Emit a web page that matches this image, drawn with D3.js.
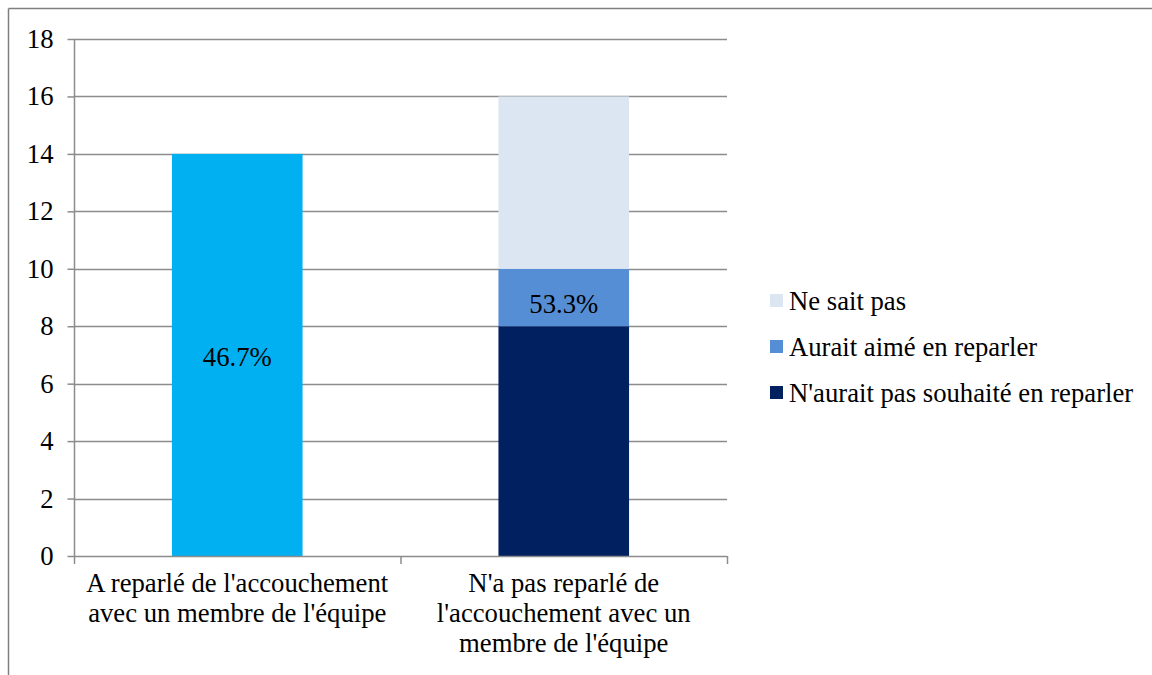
<!DOCTYPE html>
<meta charset="utf-8">
<head>
<script src="https://d3js.org/d3.v7.min.js"></script>
<style>
  body { margin: 0; background: #fff; }
  svg text { font-family: "Liberation Serif", "Times New Roman", serif; fill: #000; }
</style>
</head>
<body>
<div id="chart"></div>
<script>
// data
var categories = [
  ["A reparlé de l'accouchement", "avec un membre de l'équipe"],
  ["N'a pas reparlé de", "l'accouchement avec un", "membre de l'équipe"]
];
var seriesNames = ["Reparlé", "N'aurait pas souhaité en reparler", "Aurait aimé en reparler", "Ne sait pas"];
var seriesColors = ["#00B0F0", "#002060", "#558ED5", "#DCE6F2"];
var values = [
  [14, 0, 0, 0],
  [0, 8, 2, 6]
];
var percentLabels = ["46.7%", "53.3%"];
var yTicks = [0, 2, 4, 6, 8, 10, 12, 14, 16, 18];
var legendItems = ["Ne sait pas", "Aurait aimé en reparler", "N'aurait pas souhaité en reparler"];
var legendColors = ["#DCE6F2", "#558ED5", "#002060"];

var W = 1152, H = 675;
var fs = "26.7px";
var ff = "'Liberation Serif', 'Times New Roman', serif";
var svg = d3.select("#chart").append("svg").attr("width", W).attr("height", H)
  .attr("font-family", ff);

// outer border (top and left visible)
svg.append("line").attr("x1", 8.5).attr("x2", W).attr("y1", 8.5).attr("y2", 8.5)
  .attr("stroke", "#7f7f7f").attr("stroke-width", 1.5);
svg.append("line").attr("x1", 8.5).attr("x2", 8.5).attr("y1", 8.5).attr("y2", H)
  .attr("stroke", "#7f7f7f").attr("stroke-width", 1.5);

var plotLeft = 74, plotRight = 727, plotTop = 39, plotBottom = 556;

var x = d3.scaleBand().domain(d3.range(categories.length)).range([plotLeft, plotRight]).paddingInner(0).paddingOuter(0);
var y = d3.scaleLinear().domain([0, 18]).range([plotBottom, plotTop]);

// gridlines
svg.append("g").selectAll("line").data(yTicks.filter(function(d){ return d > 0; })).enter().append("line")
  .attr("x1", plotLeft).attr("x2", plotRight)
  .attr("y1", function(d){ return Math.round(y(d)) + 0.5; })
  .attr("y2", function(d){ return Math.round(y(d)) + 0.5; })
  .attr("stroke", "#8c8c8c").attr("stroke-width", 1.5);

// stacked bars
var barW = x.bandwidth() * 0.4;
values.forEach(function(row, i) {
  var acc = 0;
  row.forEach(function(v, s) {
    if (v <= 0) return;
    svg.append("rect")
      .attr("x", x(i) + (x.bandwidth() - barW) / 2)
      .attr("width", barW)
      .attr("y", y(acc + v))
      .attr("height", y(acc) - y(acc + v))
      .attr("fill", seriesColors[s]);
    acc += v;
  });
});

// percent labels
var labelPos = [6.95, 8.8];
percentLabels.forEach(function(t, i) {
  svg.append("text")
    .attr("x", x(i) + x.bandwidth() / 2)
    .attr("y", y(labelPos[i]) + 10)
    .attr("text-anchor", "middle")
    .attr("font-family", ff)
    .style("font-size", fs)
    .text(t);
});

// y axis
var yAxis = svg.append("g").attr("transform", "translate(" + (plotLeft + 0.5) + ",0)")
  .call(d3.axisLeft(y).tickValues(yTicks).tickSize(7).tickPadding(14));
yAxis.attr("font-family", ff);
yAxis.selectAll("line, path").attr("stroke", "#8c8c8c").attr("stroke-width", 1.5);
yAxis.select(".domain").attr("d", "M0," + plotTop + "V" + plotBottom);
yAxis.selectAll("text").style("font-size", fs).attr("fill", "#000");

// x axis
svg.append("line").attr("x1", plotLeft).attr("x2", plotRight).attr("y1", plotBottom + 0.5).attr("y2", plotBottom + 0.5)
  .attr("stroke", "#8c8c8c").attr("stroke-width", 1.5);
svg.append("g").selectAll("line").data([0, 1, 2]).enter().append("line")
  .attr("x1", function(d){ return plotLeft + d * x.bandwidth() + 0.5; })
  .attr("x2", function(d){ return plotLeft + d * x.bandwidth() + 0.5; })
  .attr("y1", plotBottom).attr("y2", plotBottom + 8)
  .attr("stroke", "#8c8c8c").attr("stroke-width", 1.5);

categories.forEach(function(lines, i) {
  var t = svg.append("text")
    .attr("x", x(i) + x.bandwidth() / 2)
    .attr("y", 592)
    .attr("text-anchor", "middle")
    .attr("font-family", ff)
    .style("font-size", fs);
  lines.forEach(function(l, j) {
    t.append("tspan").attr("x", x(i) + x.bandwidth() / 2).attr("dy", j === 0 ? 0 : 30).text(l);
  });
});

// legend
var legend = svg.append("g").attr("transform", "translate(770,0)");
legendItems.forEach(function(name, i) {
  var cy = 301 + i * 46;
  legend.append("rect").attr("x", 0).attr("y", cy - 7).attr("width", 13).attr("height", 13).attr("fill", legendColors[i]);
  legend.append("text").attr("x", 19).attr("y", cy + 9).attr("font-family", ff).style("font-size", fs).text(name);
});
</script>
</body>
